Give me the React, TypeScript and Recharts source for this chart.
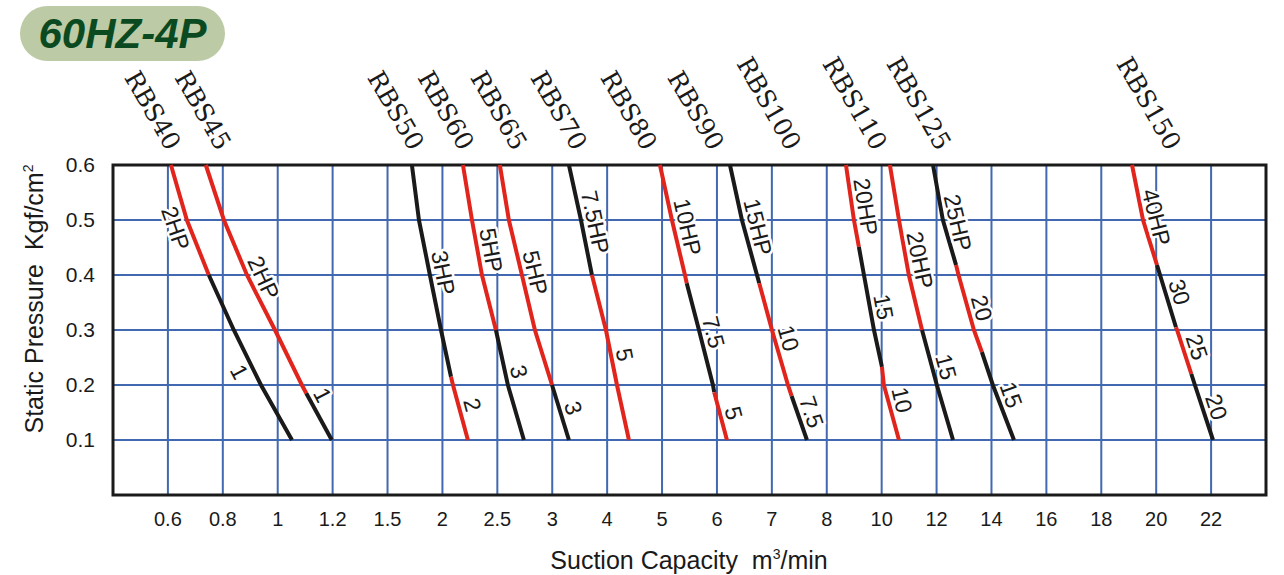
import React from 'react';
import {
  ComposedChart,
  Line,
  XAxis,
  YAxis,
  CartesianGrid,
  ReferenceDot,
  ReferenceArea,
  Label,
} from 'recharts';

// stepped capacity axis: every tick gets one grid cell
const xTickValues = [0.6, 0.8, 1, 1.2, 1.5, 2, 2.5, 3, 4, 5, 6, 7, 8, 10, 12, 14, 16, 18, 20, 22];
const yTicks = [0.1, 0.2, 0.3, 0.4, 0.5, 0.6];
const pStd = [0.6, 0.5, 0.4, 0.3, 0.2, 0.1];

// capacity (m3/min) per pressure point, colour of each piece (R = red, K = black)
// labels: [text, pressure at label, side of the curve (1 right, -1 left)]
const rbs40Q = [0.611, 0.669, 0.749, 0.84, 0.939, 1.052];
const rbs40P = pStd;
const rbs40C = 'RRKKK';
const rbs40Labels: [string, number, number][] = [['2HP', 0.485, -1], ['1', 0.224, -1]];

const rbs45Q = [0.738, 0.804, 0.888, 0.99, 1.088, 1.104, 1.197];
const rbs45P = [0.6, 0.5, 0.4, 0.3, 0.2, 0.185, 0.1];
const rbs45C = 'RRRRRK';
const rbs45Labels: [string, number, number][] = [['2HP', 0.395, 1], ['1', 0.182, 1]];

const rbs50Q = [1.722, 1.786, 1.886, 1.987, 2.078, 2.096, 2.232];
const rbs50P = [0.6, 0.5, 0.4, 0.3, 0.215, 0.2, 0.1];
const rbs50C = 'KKKKRR';
const rbs50Labels: [string, number, number][] = [['3HP', 0.404, 1], ['2', 0.164, 1]];

const rbs60Q = [2.187, 2.269, 2.36, 2.487, 2.596, 2.742];
const rbs60P = pStd;
const rbs60C = 'RRRKK';
const rbs60Labels: [string, number, number][] = [['5HP', 0.445, 1], ['3', 0.224, 1]];

const rbs65Q = [2.523, 2.605, 2.724, 2.842, 2.998, 3.304];
const rbs65P = pStd;
const rbs65C = 'RRRRK';
const rbs65Labels: [string, number, number][] = [['5HP', 0.404, 1], ['3', 0.158, 1]];

const rbs70Q = [3.304, 3.523, 3.723, 3.978, 4.179, 4.397];
const rbs70P = pStd;
const rbs70C = 'KKRRR';
const rbs70Labels: [string, number, number][] = [['7.5HP', 0.496, 1], ['5', 0.255, 1]];

const rbs80Q = [4.962, 5.18, 5.417, 5.45, 5.672, 5.927, 5.95, 6.182];
const rbs80P = [0.6, 0.5, 0.4, 0.385, 0.3, 0.2, 0.187, 0.1];
const rbs80C = 'RRRKKKR';
const rbs80Labels: [string, number, number][] = [['10HP', 0.487, 1], ['7.5', 0.296, 1], ['5', 0.149, 1]];

const rbs90Q = [6.237, 6.455, 6.729, 6.77, 7.002, 7.293, 7.36, 7.639];
const rbs90P = [0.6, 0.5, 0.4, 0.385, 0.3, 0.2, 0.18, 0.1];
const rbs90C = 'KKKRRRK';
const rbs90Labels: [string, number, number][] = [['15HP', 0.487, 1], ['10', 0.285, 1], ['7.5', 0.151, 1]];

const rbs100Q = [8.7, 8.99, 9.17, 9.355, 9.72, 10.01, 10.08, 10.63];
const rbs100P = [0.6, 0.5, 0.451, 0.4, 0.3, 0.233, 0.2, 0.1];
const rbs100C = 'RRKKKRR';
const rbs100Labels: [string, number, number][] = [['20HP', 0.524, 1], ['15', 0.342, 1], ['10', 0.173, 1]];

const rbs110Q = [10.3, 10.63, 10.99, 11.47, 12.01, 12.6];
const rbs110P = pStd;
const rbs110C = 'RRRKK';
const rbs110Labels: [string, number, number][] = [['20HP', 0.427, 1], ['15', 0.233, 1]];

const rbs125Q = [11.87, 12.23, 12.71, 12.8, 13.36, 13.65, 14.05, 14.82];
const rbs125P = [0.6, 0.5, 0.418, 0.4, 0.3, 0.26, 0.2, 0.1];
const rbs125C = 'KKRRRKK';
const rbs125Labels: [string, number, number][] = [['25HP', 0.495, 1], ['20', 0.34, 1], ['15', 0.182, 1]];

const rbs150Q = [19.12, 19.52, 20.03, 20.14, 20.72, 20.76, 21.28, 21.41, 22.07];
const rbs150P = [0.6, 0.5, 0.418, 0.4, 0.305, 0.3, 0.22, 0.2, 0.1];
const rbs150C = 'RRKKRRKK';
const rbs150Labels: [string, number, number][] = [['40HP', 0.505, 1], ['30', 0.369, 1], ['25', 0.269, 1], ['20', 0.16, 1]];

const modelNames = ['RBS40', 'RBS45', 'RBS50', 'RBS60', 'RBS65', 'RBS70', 'RBS80', 'RBS90', 'RBS100', 'RBS110', 'RBS125', 'RBS150'];
const modelNameQ = [0.596, 0.779, 1.704, 2.16, 2.642, 3.377, 4.652, 5.872, 7.275, 9.68, 12.01, 20.39];

const curves = [
  { q: rbs40Q, p: rbs40P, c: rbs40C, labels: rbs40Labels },
  { q: rbs45Q, p: rbs45P, c: rbs45C, labels: rbs45Labels },
  { q: rbs50Q, p: rbs50P, c: rbs50C, labels: rbs50Labels },
  { q: rbs60Q, p: rbs60P, c: rbs60C, labels: rbs60Labels },
  { q: rbs65Q, p: rbs65P, c: rbs65C, labels: rbs65Labels },
  { q: rbs70Q, p: rbs70P, c: rbs70C, labels: rbs70Labels },
  { q: rbs80Q, p: rbs80P, c: rbs80C, labels: rbs80Labels },
  { q: rbs90Q, p: rbs90P, c: rbs90C, labels: rbs90Labels },
  { q: rbs100Q, p: rbs100P, c: rbs100C, labels: rbs100Labels },
  { q: rbs110Q, p: rbs110P, c: rbs110C, labels: rbs110Labels },
  { q: rbs125Q, p: rbs125P, c: rbs125C, labels: rbs125Labels },
  { q: rbs150Q, p: rbs150P, c: rbs150C, labels: rbs150Labels },
];

const W = 1284;
const H = 575;
const M = { top: 165, right: 18, bottom: 50, left: 53 };
const Y_AXIS_W = 60;
const X_AXIS_H = 30;
const PLOT_W = W - M.left - Y_AXIS_W - M.right;
const PLOT_H = H - M.top - M.bottom - X_AXIS_H;
const PX_IDX = PLOT_W / 21;
const PX_P = PLOT_H / 0.6;
const LABEL_OFF = 13.5;

const RED = '#e1251c';
const BLACK = '#1a1a1a';
const GRID = '#4168b0';
const SANS = '"Liberation Sans", Arial, sans-serif';

// capacity -> position on the stepped axis
function toIdx(q: number) {
  const v = xTickValues;
  let i = 0;
  while (i < v.length - 2 && q > v[i + 1]) i++;
  return i + (q - v[i]) / (v[i + 1] - v[i]);
}

type Curve = { q: number[]; p: number[]; c: string; labels: [string, number, number][] };

function pieces(c: Curve) {
  const out: { color: string; pts: { x: number; y: number }[] }[] = [];
  let start = 0;
  for (let k = 1; k <= c.c.length; k++) {
    if (k === c.c.length || c.c[k] !== c.c[start]) {
      const pts = [];
      for (let j = start; j <= k; j++) pts.push({ x: toIdx(c.q[j]), y: c.p[j] });
      out.push({ color: c.c[start] === 'R' ? RED : BLACK, pts });
      start = k;
    }
  }
  return out;
}

// text direction follows the local slope of the curve on screen
function slopeAngle(c: Curve, lp: number) {
  let hi = 0;
  for (let j = 0; j < c.p.length; j++) if (c.p[j] >= lp + 0.03) hi = j;
  let lo = c.p.length - 1;
  for (let j = c.p.length - 1; j >= 0; j--) if (c.p[j] <= lp - 0.03) lo = j;
  const dx = (toIdx(c.q[lo]) - toIdx(c.q[hi])) * PX_IDX;
  const dy = (c.p[hi] - c.p[lo]) * PX_P;
  return (Math.atan2(dy, dx) * 180) / Math.PI;
}

// where the curve passes at a given pressure (for placing its label)
function curveIdxAt(c: Curve, lp: number) {
  for (let j = 0; j < c.p.length - 1; j++) {
    if (lp <= c.p[j] && lp >= c.p[j + 1]) {
      const t = (c.p[j] - lp) / (c.p[j] - c.p[j + 1]);
      const a = toIdx(c.q[j]);
      return a + t * (toIdx(c.q[j + 1]) - a);
    }
  }
  return toIdx(c.q[c.q.length - 1]);
}

function labelPoints(c: Curve) {
  return c.labels.map(([text, lp, side]) => {
    const angle = slopeAngle(c, lp);
    const rad = (angle * Math.PI) / 180;
    const footP = lp - (side * LABEL_OFF * Math.cos(rad)) / PX_P;
    return { x: curveIdxAt(c, footP), y: footP, text, angle, side };
  });
}

const xTickIdx = xTickValues.map((_, i) => i);

const renderCurveLabel = (props: any) => {
  const { cx, cy, payload, index } = props;
  if (cx == null || cy == null) return <g key={`e-${index}`} />;
  const rad = (payload.angle * Math.PI) / 180;
  const x = cx + payload.side * LABEL_OFF * Math.sin(rad);
  const y = cy - payload.side * LABEL_OFF * Math.cos(rad);
  return (
    <text
      key={`t-${index}-${payload.text}`}
      x={x}
      y={y}
      transform={`rotate(${payload.angle} ${x} ${y})`}
      textAnchor="middle"
      dominantBaseline="central"
      fontSize={23}
      fontFamily={SANS}
      fill={BLACK}
      stroke="#fff"
      strokeWidth={5}
      strokeLinejoin="round"
      paintOrder="stroke"
    >
      {payload.text}
    </text>
  );
};

export default function App() {
  return (
    <div style={{ position: 'absolute', left: 0, top: 0, width: W, height: H, background: '#fff' }}>
      <div
        style={{
          position: 'absolute',
          left: 20,
          top: 6,
          width: 205,
          height: 55,
          borderRadius: 28,
          background: '#bccaa5',
          color: '#0b4a21',
          fontFamily: SANS,
          fontWeight: 700,
          fontStyle: 'italic',
          fontSize: 42,
          lineHeight: '55px',
          textAlign: 'center',
          zIndex: 2,
        }}
      >
        60HZ-4P
      </div>
      <ComposedChart width={W} height={H} margin={M}>
        <CartesianGrid
          stroke={GRID}
          strokeWidth={2}
          verticalValues={xTickIdx}
          horizontalValues={[0.1, 0.2, 0.3, 0.4, 0.5]}
        />
        <XAxis
          type="number"
          dataKey="x"
          domain={[-1, 20]}
          ticks={xTickIdx}
          interval={0}
          allowDataOverflow
          tickFormatter={(i: number) => String(xTickValues[i])}
          tickLine={false}
          axisLine={false}
          tickSize={0}
          tickMargin={17}
          height={X_AXIS_H}
          tick={{ fontSize: 20, fill: BLACK, fontFamily: SANS }}
        >
          <Label
            content={() => (
              <text x={689} y={569} textAnchor="middle" fontSize={25} fill={BLACK} fontFamily={SANS} style={{ whiteSpace: 'pre' }}>
                {'Suction Capacity  m'}
                <tspan dy={-10} fontSize={14}>3</tspan>
                <tspan dy={10}>/min</tspan>
              </text>
            )}
          />
        </XAxis>
        <YAxis
          type="number"
          domain={[0, 0.6]}
          ticks={yTicks}
          interval={0}
          tickFormatter={(v: number) => v.toFixed(1)}
          tickLine={false}
          axisLine={false}
          tickSize={0}
          tickMargin={18}
          width={Y_AXIS_W}
          tick={{ fontSize: 21, fill: BLACK, fontFamily: SANS }}
        >
          <Label
            content={() => (
              <text
                x={43}
                y={299}
                transform="rotate(-90 43 299)"
                textAnchor="middle"
                fontSize={25}
                fill={BLACK}
                fontFamily={SANS}
                style={{ whiteSpace: 'pre' }}
              >
                {'Static Pressure  Kgf/cm'}
                <tspan dy={-10} fontSize={14}>2</tspan>
              </text>
            )}
          />
        </YAxis>
        <ReferenceArea
          x1={-1}
          x2={20}
          y1={0}
          y2={0.6}
          fill="none"
          stroke={BLACK}
          strokeWidth={3}
          ifOverflow="visible"
        />
        {modelNames.map((name, i) => (
          <ReferenceDot
            key={`name-${name}`}
            x={toIdx(modelNameQ[i])}
            y={0.6}
            ifOverflow="visible"
            shape={(props: any) => {
              const x = props.cx;
              const y = props.cy - 13;
              return (
                <text
                  x={x}
                  y={y}
                  transform={`rotate(60 ${x} ${y})`}
                  textAnchor="end"
                  fontSize={25}
                  fontFamily='"DejaVu Serif", "Liberation Serif", serif'
                  fill={BLACK}
                >
                  {name}
                </text>
              );
            }}
          />
        ))}
        {/* power labels first, so the curves are drawn over their white halos */}
        {curves.map((c, ci) => (
          <Line
            key={`labels-${ci}`}
            data={labelPoints(c)}
            dataKey="y"
            stroke="none"
            dot={renderCurveLabel}
            activeDot={false}
            isAnimationActive={false}
          />
        ))}
        {curves.flatMap((c, ci) =>
          pieces(c).map((s, si) => (
            <Line
              key={`seg-${ci}-${si}`}
              data={s.pts}
              dataKey="y"
              type="linear"
              stroke={s.color}
              strokeWidth={4}
              dot={false}
              activeDot={false}
              isAnimationActive={false}
            />
          ))
        )}
      </ComposedChart>
    </div>
  );
}
